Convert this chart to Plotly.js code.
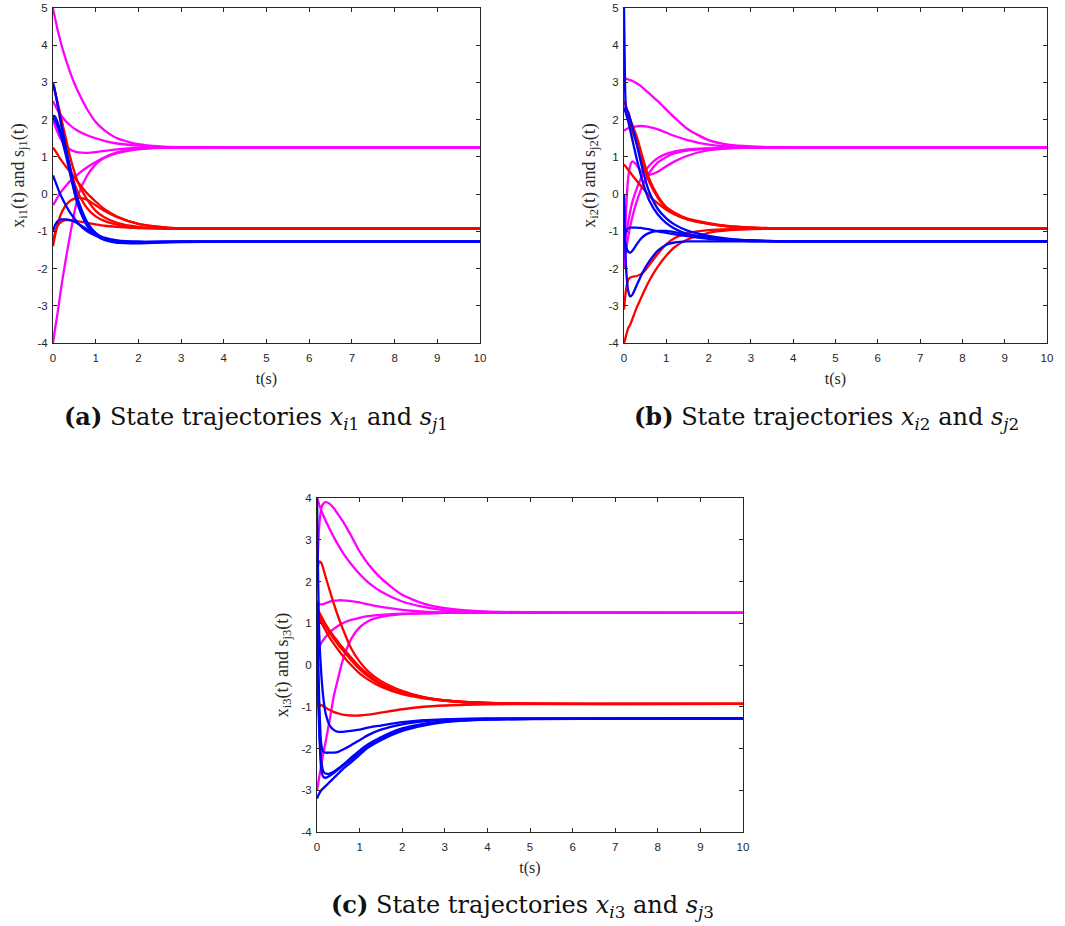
<!DOCTYPE html>
<html>
<head>
<meta charset="utf-8">
<script src="https://cdn.plot.ly/plotly-3.0.1.min.js"></script>
<style>html,body{margin:0;padding:0;background:#fff;}#chart{width:1065px;height:926px;}</style>
</head>
<body>
<div id="chart"></div>
<script>
// shared time samples (s)
const T = [0, 0.02, 0.05, 0.1, 0.15, 0.2, 0.3, 0.4, 0.5, 0.6, 0.8, 1.0, 1.2, 1.5, 2.0, 2.5, 3.0, 4.0, 10];
const xTicks = [0,1,2,3,4,5,6,7,8,9,10];

// ---- panel (a): x_i1 (blue, red) and s_j1 (magenta)
const aBlue = [
  [2.95, 2.9, 2.75, 2.45, 2.15, 1.85, 1.25, 0.65, 0.1, -0.3, -0.78, -1.05, -1.2, -1.3, -1.32, -1.3, -1.29, -1.28, -1.28],
  [2.05, 2.1, 2.08, 1.95, 1.78, 1.6, 1.2, 0.72, 0.2, -0.2, -0.75, -1.05, -1.2, -1.28, -1.3, -1.29, -1.28, -1.28, -1.28],
  [2.0, 2.02, 1.98, 1.85, 1.68, 1.5, 1.05, 0.55, 0.05, -0.35, -0.85, -1.1, -1.23, -1.3, -1.31, -1.29, -1.28, -1.28, -1.28],
  [0.5, 0.44, 0.35, 0.2, 0.05, -0.08, -0.3, -0.5, -0.65, -0.8, -1.0, -1.12, -1.2, -1.26, -1.28, -1.28, -1.28, -1.28, -1.28],
  [-1.0, -0.92, -0.83, -0.74, -0.7, -0.68, -0.68, -0.7, -0.74, -0.8, -0.95, -1.08, -1.17, -1.24, -1.28, -1.28, -1.28, -1.28, -1.28]
];
const aRed = [
  [3.0, 2.92, 2.75, 2.45, 2.12, 1.8, 1.2, 0.7, 0.3, 0.0, -0.38, -0.6, -0.72, -0.82, -0.9, -0.92, -0.93, -0.93, -0.93],
  [2.9, 2.85, 2.72, 2.5, 2.25, 2.0, 1.5, 1.0, 0.6, 0.28, -0.15, -0.45, -0.62, -0.77, -0.88, -0.92, -0.93, -0.93, -0.93],
  [1.25, 1.22, 1.17, 1.08, 0.98, 0.9, 0.74, 0.6, 0.45, 0.3, 0.02, -0.2, -0.4, -0.6, -0.8, -0.88, -0.92, -0.93, -0.93],
  [-1.4, -1.28, -1.1, -0.85, -0.65, -0.5, -0.3, -0.18, -0.12, -0.1, -0.15, -0.3, -0.45, -0.62, -0.8, -0.88, -0.92, -0.93, -0.93],
  [-1.3, -1.18, -1.02, -0.87, -0.79, -0.74, -0.7, -0.7, -0.71, -0.73, -0.77, -0.81, -0.85, -0.88, -0.91, -0.92, -0.93, -0.93, -0.93]
];
const aMagenta = [
  [5.0, 4.88, 4.72, 4.45, 4.22, 4.0, 3.62, 3.28, 2.98, 2.72, 2.28, 1.94, 1.72, 1.5, 1.34, 1.28, 1.26, 1.25, 1.25],
  [2.5, 2.45, 2.38, 2.27, 2.18, 2.1, 1.96, 1.85, 1.76, 1.69, 1.58, 1.5, 1.43, 1.36, 1.3, 1.27, 1.26, 1.25, 1.25],
  [2.0, 1.93, 1.83, 1.68, 1.55, 1.45, 1.3, 1.2, 1.15, 1.12, 1.11, 1.13, 1.16, 1.2, 1.24, 1.25, 1.25, 1.25, 1.25],
  [-0.3, -0.26, -0.2, -0.1, 0.0, 0.08, 0.22, 0.35, 0.45, 0.55, 0.72, 0.86, 0.98, 1.1, 1.2, 1.24, 1.25, 1.25, 1.25],
  [-4.0, -3.85, -3.6, -3.25, -2.85, -2.45, -1.75, -1.1, -0.5, 0.0, 0.5, 0.8, 0.98, 1.12, 1.22, 1.25, 1.25, 1.25, 1.25]
];

// ---- panel (b): x_i2 and s_j2
const bBlue = [
  [5.0, 3.3, 2.3, 2.2, 2.0, 1.8, 1.35, 0.85, 0.4, 0.05, -0.4, -0.65, -0.82, -0.98, -1.12, -1.2, -1.24, -1.27, -1.27],
  [2.3, 2.25, 2.15, 1.95, 1.7, 1.45, 0.95, 0.5, 0.12, -0.18, -0.55, -0.78, -0.93, -1.07, -1.18, -1.23, -1.26, -1.27, -1.27],
  [-1.17, -1.08, -0.98, -0.92, -0.9, -0.9, -0.9, -0.91, -0.93, -0.95, -1.0, -1.04, -1.08, -1.13, -1.2, -1.24, -1.26, -1.27, -1.27],
  [-1.15, -1.25, -1.42, -1.55, -1.57, -1.52, -1.35, -1.2, -1.1, -1.04, -0.99, -0.99, -1.02, -1.08, -1.17, -1.22, -1.25, -1.27, -1.27],
  [0.0, -1.0, -2.0, -2.6, -2.75, -2.7, -2.45, -2.2, -1.98, -1.8, -1.52, -1.36, -1.3, -1.27, -1.27, -1.27, -1.27, -1.27, -1.27]
];
const bRed = [
  [2.5, 2.45, 2.35, 2.18, 2.0, 1.85, 1.55, 1.15, 0.75, 0.4, -0.05, -0.35, -0.5, -0.66, -0.78, -0.86, -0.9, -0.93, -0.93],
  [2.35, 2.3, 2.2, 2.02, 1.85, 1.68, 1.35, 0.98, 0.62, 0.32, -0.1, -0.38, -0.54, -0.68, -0.8, -0.87, -0.9, -0.93, -0.93],
  [0.8, 0.77, 0.73, 0.65, 0.58, 0.5, 0.36, 0.22, 0.08, -0.05, -0.25, -0.42, -0.55, -0.68, -0.8, -0.87, -0.9, -0.93, -0.93],
  [-3.1, -2.85, -2.55, -2.3, -2.24, -2.22, -2.2, -2.15, -2.05, -1.9, -1.6, -1.35, -1.18, -1.05, -0.97, -0.94, -0.93, -0.93, -0.93],
  [-4.0, -3.93, -3.8, -3.6, -3.5, -3.35, -3.05, -2.8, -2.55, -2.32, -1.95, -1.65, -1.42, -1.22, -1.04, -0.97, -0.94, -0.93, -0.93]
];
const bMagenta = [
  [3.1, 3.1, 3.1, 3.08, 3.06, 3.04, 2.98, 2.9, 2.8, 2.7, 2.5, 2.27, 2.05, 1.75, 1.45, 1.32, 1.28, 1.25, 1.25],
  [1.7, 1.72, 1.74, 1.77, 1.79, 1.8, 1.82, 1.83, 1.82, 1.8, 1.74, 1.65, 1.56, 1.45, 1.33, 1.28, 1.26, 1.25, 1.25],
  [-2.0, -1.3, -0.4, 0.45, 0.78, 0.88, 0.78, 0.62, 0.53, 0.52, 0.6, 0.75, 0.88, 1.03, 1.18, 1.23, 1.25, 1.25, 1.25],
  [-1.9, -1.75, -1.5, -1.15, -0.85, -0.6, -0.2, 0.12, 0.38, 0.58, 0.85, 1.0, 1.1, 1.17, 1.22, 1.24, 1.25, 1.25, 1.25],
  [-1.5, -1.35, -1.1, -0.75, -0.45, -0.2, 0.15, 0.42, 0.62, 0.77, 0.97, 1.08, 1.15, 1.2, 1.23, 1.25, 1.25, 1.25, 1.25]
];

// ---- panel (c): x_i3 and s_j3
const cBlue = [
  [4.0, 2.5, 0.8, -0.2, -0.8, -1.15, -1.45, -1.56, -1.6, -1.6, -1.58, -1.55, -1.5, -1.45, -1.37, -1.32, -1.3, -1.28, -1.28],
  [1.5, 0.5, -0.8, -1.9, -2.08, -2.1, -2.1, -2.1, -2.08, -2.03, -1.92, -1.8, -1.68, -1.55, -1.42, -1.35, -1.31, -1.29, -1.28],
  [0.8, -0.3, -1.5, -2.5, -2.68, -2.7, -2.65, -2.58, -2.5, -2.42, -2.27, -2.1, -1.95, -1.77, -1.55, -1.42, -1.35, -1.3, -1.28],
  [1.0, 0.0, -1.3, -2.3, -2.55, -2.6, -2.6, -2.55, -2.48, -2.4, -2.22, -2.05, -1.9, -1.73, -1.52, -1.41, -1.35, -1.3, -1.28],
  [-3.2, -3.15, -3.08, -3.0, -2.95, -2.9, -2.8, -2.7, -2.6, -2.5, -2.33, -2.15, -1.98, -1.8, -1.58, -1.45, -1.37, -1.31, -1.28]
];
const cRed = [
  [2.2, 2.35, 2.48, 2.45, 2.3, 2.12, 1.78, 1.45, 1.15, 0.88, 0.4, 0.08, -0.15, -0.38, -0.62, -0.77, -0.85, -0.91, -0.93],
  [1.35, 1.32, 1.27, 1.17, 1.07, 0.98, 0.82, 0.68, 0.55, 0.42, 0.18, -0.05, -0.22, -0.44, -0.65, -0.77, -0.85, -0.91, -0.93],
  [1.3, 1.27, 1.22, 1.12, 1.02, 0.93, 0.77, 0.62, 0.48, 0.36, 0.12, -0.1, -0.27, -0.47, -0.67, -0.78, -0.85, -0.91, -0.93],
  [1.22, 1.18, 1.12, 1.02, 0.92, 0.83, 0.65, 0.5, 0.36, 0.23, 0.0, -0.2, -0.35, -0.52, -0.7, -0.8, -0.86, -0.92, -0.93],
  [-0.92, -0.93, -0.94, -0.96, -0.99, -1.02, -1.08, -1.13, -1.16, -1.19, -1.21, -1.21, -1.19, -1.14, -1.06, -1.0, -0.97, -0.94, -0.93]
];
const cMagenta = [
  [1.9, 2.6, 3.3, 3.75, 3.87, 3.9, 3.86, 3.75, 3.6, 3.45, 3.1, 2.72, 2.42, 2.08, 1.68, 1.47, 1.36, 1.28, 1.25],
  [4.0, 3.95, 3.85, 3.7, 3.58, 3.46, 3.25, 3.05, 2.87, 2.7, 2.42, 2.18, 1.98, 1.76, 1.52, 1.39, 1.31, 1.27, 1.25],
  [1.55, 1.5, 1.47, 1.45, 1.46, 1.48, 1.52, 1.54, 1.55, 1.55, 1.53, 1.5, 1.45, 1.39, 1.32, 1.28, 1.26, 1.25, 1.25],
  [0.3, 0.35, 0.42, 0.52, 0.6, 0.67, 0.78, 0.87, 0.94, 1.0, 1.08, 1.13, 1.17, 1.2, 1.23, 1.24, 1.25, 1.25, 1.25],
  [-3.0, -2.9, -2.7, -2.4, -2.1, -1.85, -1.3, -0.72, -0.3, 0.1, 0.62, 0.9, 1.05, 1.15, 1.22, 1.24, 1.25, 1.25, 1.25]
];

const COLORS = {blue: '#0000ff', red: '#ff0000', magenta: '#ff00ff'};

const traces = [];
function addSet(sets, color, xa, ya) {
  sets.forEach(function (ys) {
    traces.push({
      type: 'scatter', mode: 'lines', x: T, y: ys, xaxis: xa, yaxis: ya,
      line: {color: color, width: 2.3, shape: 'spline', smoothing: 0.6},
      hoverinfo: 'skip', showlegend: false
    });
  });
}
addSet(aMagenta, COLORS.magenta, 'x', 'y');
addSet(aRed, COLORS.red, 'x', 'y');
addSet(aBlue, COLORS.blue, 'x', 'y');
addSet(bMagenta, COLORS.magenta, 'x2', 'y2');
addSet(bRed, COLORS.red, 'x2', 'y2');
addSet(bBlue, COLORS.blue, 'x2', 'y2');
addSet(cMagenta, COLORS.magenta, 'x3', 'y3');
addSet(cRed, COLORS.red, 'x3', 'y3');
addSet(cBlue, COLORS.blue, 'x3', 'y3');

const W = 1065, H = 926;
const axisCol = '#262626';
const tickFont = {family: 'Liberation Sans, Arial, sans-serif', size: 11.5, color: axisCol};
const xTitleFont = {family: 'Liberation Serif, Times New Roman, serif', size: 16, color: axisCol};
const yTitleFont = {family: 'Liberation Serif, Times New Roman, serif', size: 18, color: axisCol};

function xAxis(x0, x1, anchor) {
  return {
    domain: [x0 / W, x1 / W], anchor: anchor, range: [0, 10],
    tickmode: 'array', tickvals: xTicks, ticktext: xTicks.map(String),
    ticks: 'inside', ticklen: 4, tickwidth: 1, tickcolor: axisCol,
    showline: true, linecolor: axisCol, linewidth: 1, mirror: 'ticks',
    showgrid: false, zeroline: false, tickfont: tickFont, ticklabelstandoff: 4,
    title: {text: 't(s)', font: xTitleFont, standoff: 10}
  };
}
function yAxis(y0px, y1px, lo, hi, label, anchor) {
  const vals = [];
  for (let v = lo; v <= hi; v++) vals.push(v);
  return {
    domain: [1 - y1px / H, 1 - y0px / H], anchor: anchor, range: [lo, hi],
    tickmode: 'array', tickvals: vals, ticktext: vals.map(String),
    ticks: 'inside', ticklen: 4, tickwidth: 1, tickcolor: axisCol,
    showline: true, linecolor: axisCol, linewidth: 1, mirror: 'ticks',
    showgrid: false, zeroline: false, tickfont: tickFont, ticklabelstandoff: 2,
    title: {text: label, font: yTitleFont, standoff: 8}
  };
}

const capFont = {family: 'DejaVu Serif, serif', size: 24, color: '#111'};
function caption(cx, cy, txt) {
  return {xref: 'paper', yref: 'paper', x: cx / W, y: 1 - cy / H, xanchor: 'center', yanchor: 'middle',
          showarrow: false, font: capFont, text: txt};
}
const layout = {
  width: W, height: H, margin: {l: 0, r: 0, t: 0, b: 0},
  paper_bgcolor: '#fff', plot_bgcolor: '#fff', showlegend: false,
  xaxis: xAxis(53, 480, 'y'),
  yaxis: yAxis(8, 343, -4, 5, 'x<sub>i1</sub>(t) and s<sub>j1</sub>(t)', 'x'),
  xaxis2: xAxis(624, 1047, 'y2'),
  yaxis2: yAxis(8, 343, -4, 5, 'x<sub>i2</sub>(t) and s<sub>j2</sub>(t)', 'x2'),
  xaxis3: xAxis(317, 743, 'y3'),
  yaxis3: yAxis(498, 832, -4, 4, 'x<sub>i3</sub>(t) and s<sub>j3</sub>(t)', 'x3'),
  annotations: [
    caption(256, 418, '<b>(a)</b> State trajectories <i>x</i><sub><i>i</i>1</sub> and <i>s</i><sub><i>j</i>1</sub>'),
    caption(826, 418, '<b>(b)</b> State trajectories <i>x</i><sub><i>i</i>2</sub> and <i>s</i><sub><i>j</i>2</sub>'),
    caption(522, 906, '<b>(c)</b> State trajectories <i>x</i><sub><i>i</i>3</sub> and <i>s</i><sub><i>j</i>3</sub>')
  ]
};

Plotly.newPlot('chart', traces, layout, {staticPlot: true, displayModeBar: false});
</script>
</body>
</html>
